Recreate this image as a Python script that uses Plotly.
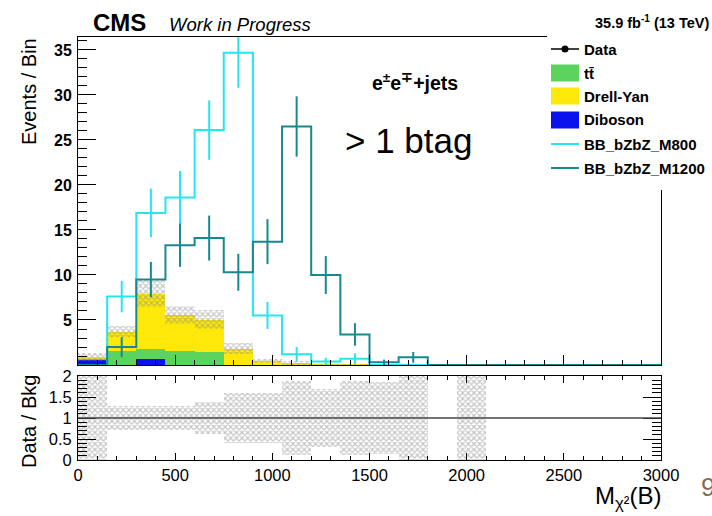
import plotly.graph_objects as go

# ---------------- data ----------------
bin_low = [0, 150, 300, 450, 600, 750, 900, 1050, 1200, 1350,
           1500, 1650, 1800, 1950, 2100, 2250, 2400, 2550, 2700, 2850]
bin_width = 150

diboson = [0.65, 0, 0.65, 0, 0, 0, 0, 0, 0, 0, 0, 0, 0, 0, 0, 0, 0, 0, 0, 0]
ttbar = [0.05, 1.6, 1.15, 1.6, 1.45, 0.05, 0, 0, 0, 0, 0, 0, 0, 0, 0, 0, 0, 0, 0, 0]
drellyan = [0.2, 2.1, 6.1, 3.95, 3.6, 1.75, 0.45, 0.25, 0.08, 0.05, 0.04, 0.02, 0, 0.01, 0, 0, 0, 0, 0, 0]
bkg_unc = [0.4, 0.6, 1.5, 1.0, 1.05, 0.6, 0.25, 0.2, 0.06, 0.04, 0.03, 0.05, 0, 0.02, 0, 0, 0, 0, 0, 0]

m800 = [0, 7.6, 16.9, 18.6, 26.1, 34.7, 5.5, 1.2, 0.4, 0.7, 0, 0, 0, 0, 0, 0, 0, 0, 0, 0]
m800_err = [0, 1.75, 2.7, 2.95, 3.3, 3.9, 1.5, 0.8, 0.4, 0.6, 0, 0, 0, 0, 0, 0, 0, 0, 0, 0]
m1200 = [0, 2.0, 9.5, 13.3, 14.1, 10.3, 13.7, 26.5, 10.0, 3.4, 0.3, 0.85, 0, 0, 0, 0, 0, 0, 0, 0]
m1200_err = [0, 1.1, 1.95, 2.4, 2.5, 2.05, 2.5, 3.35, 2.1, 1.25, 0.3, 0.6, 0, 0, 0, 0, 0, 0, 0, 0]

# relative background uncertainty shown in the ratio panel (None = empty bin, 9 = off scale)
ratio_err = [9, 0.28, 0.28, 0.28, 0.38, 0.6, 0.6, 0.88, 0.7, 0.88, 0.85, 9, None, 9,
             None, None, None, None, None, None]

legend_labels = ["Data", "tt\u0304", "Drell-Yan", "Diboson", "BB_bZbZ_M800", "BB_bZbZ_M1200"]

# ---------------- styles ----------------
C_DIB = "#0a12ee"
C_TT = "#5bd35c"
C_DY = "#fde80a"
C_M800 = "#22e8ee"
C_M1200 = "#17898e"
C_HATCH = "#8a8a8a"
FONT = "Liberation Sans, Arial, Helvetica, sans-serif"

W, H = 712, 516
L, R, T, B = 78, 661, 37, 460   # plot area in pixels


def pxx(x):
    return (x - L) / (R - L)


def pxy(y):
    return (B - y) / (B - T)


centers = [lo + bin_width / 2 for lo in bin_low]
edges = bin_low + [bin_low[-1] + bin_width]

fig = go.Figure()

# stacked backgrounds
base_tt = list(diboson)
base_dy = [a + b for a, b in zip(diboson, ttbar)]
total = [a + b + c for a, b, c in zip(diboson, ttbar, drellyan)]

for vals, base, col in [(diboson, [0] * len(centers), C_DIB), (ttbar, base_tt, C_TT),
                        (drellyan, base_dy, C_DY)]:
    fig.add_trace(go.Bar(x=centers, y=vals, base=base, width=bin_width,
                         marker=dict(color=col, line=dict(width=0)), showlegend=False,
                         xaxis="x", yaxis="y"))

hatch = dict(shape="x", fgcolor=C_HATCH, bgcolor="rgba(0,0,0,0)", size=4, solidity=0.5)

# uncertainty hatch on the stack
unc_x, unc_base, unc_h = [], [], []
for c, t, u in zip(centers, total, bkg_unc):
    if u > 0:
        unc_x.append(c)
        unc_base.append(max(t - u, 0))
        unc_h.append(t + u - max(t - u, 0))
fig.add_trace(go.Bar(x=unc_x, y=unc_h, base=unc_base, width=bin_width,
                     marker=dict(color="rgba(0,0,0,0)", line=dict(width=0), pattern=hatch),
                     showlegend=False, xaxis="x", yaxis="y"))

# signal step histograms
for vals, errs, col in [(m800, m800_err, C_M800), (m1200, m1200_err, C_M1200)]:
    fig.add_trace(go.Scatter(x=edges, y=vals + [vals[-1]], mode="lines", line_shape="hv",
                             line=dict(color=col, width=2), showlegend=False,
                             xaxis="x", yaxis="y"))
    fig.add_trace(go.Scatter(x=centers, y=vals, mode="markers",
                             marker=dict(size=1, color=col, opacity=0),
                             error_y=dict(type="data", array=errs, width=0, thickness=2, color=col),
                             showlegend=False, xaxis="x", yaxis="y"))

# ratio band
rx, rb, rh = [], [], []
for c, e in zip(centers, ratio_err):
    if e is not None:
        rx.append(c)
        rb.append(1 - e)
        rh.append(2 * e)
fig.add_trace(go.Bar(x=rx, y=rh, base=rb, width=bin_width,
                     marker=dict(color="rgba(0,0,0,0)", line=dict(width=0), pattern=hatch),
                     showlegend=False, xaxis="x2", yaxis="y2"))

main_bottom = pxy(365)
ratio_top = pxy(376)

axis_common = dict(showgrid=False, zeroline=False, showline=True, linecolor="black",
                   linewidth=1, ticks="inside", tickcolor="black")

fig.update_layout(
    width=W, height=H,
    margin=dict(l=L, r=W - R, t=T, b=H - B),
    paper_bgcolor="white", plot_bgcolor="white",
    barmode="overlay", bargap=0,
    showlegend=False,
    font=dict(family=FONT, color="black"),
    xaxis=dict(**axis_common, domain=[0, 1], anchor="y", range=[0, 3000],
               showticklabels=False, dtick=500, tick0=0, ticklen=10, mirror=True,
               minor=dict(ticks="inside", dtick=100, ticklen=5, tickcolor="black")),
    yaxis=dict(**axis_common, domain=[main_bottom, 1], anchor="x", range=[0, 36.44],
               ticklen=18, mirror=True,
               tickvals=[5, 10, 15, 20, 25, 30, 35],
               tickfont=dict(family=FONT, size=16, weight="bold"),
               ticklabelstandoff=2,
               minor=dict(ticks="inside", dtick=1, ticklen=9, tickcolor="black")),
    xaxis2=dict(**axis_common, domain=[0, 1], anchor="y2", range=[0, 3000],
                tickvals=[0, 500, 1000, 1500, 2000, 2500, 3000],
                ticktext=["0", "500", "1000", "1500", "2000", "2500", "3000"],
                ticklen=7, mirror="ticks", tickfont=dict(family=FONT, size=16.5),
                minor=dict(ticks="inside", dtick=100, ticklen=4, tickcolor="black")),
    yaxis2=dict(**axis_common, domain=[0, ratio_top], anchor="x2", range=[0, 2.0],
                tickvals=[0, 0.5, 1, 1.5, 2], ticktext=["0", "0.5", "1", "1.5", "2"],
                ticklen=18, mirror="ticks", tickfont=dict(family=FONT, size=16.5),
                ticklabelstandoff=2,
                minor=dict(ticks="inside", dtick=0.1, ticklen=9, tickcolor="black")),
)

# reference line at 1 in the ratio
fig.add_shape(type="line", xref="x2 domain", yref="y2", x0=0, x1=1, y0=1, y1=1,
              line=dict(color="#444444", width=1.5))

shapes = []
annos = []

# legend block (white box covering the top right of the frame)
shapes.append(dict(type="rect", xref="paper", yref="paper", x0=pxx(547), x1=pxx(712),
                   y0=pxy(190), y1=pxy(34), fillcolor="white", line=dict(width=0), layer="above"))
leg_y = [49, 73, 96, 120, 144, 168]
sw_x0, sw_x1 = pxx(551), pxx(579)
shapes.append(dict(type="line", xref="paper", yref="paper", x0=sw_x0, x1=sw_x1,
                   y0=pxy(leg_y[0]), y1=pxy(leg_y[0]), line=dict(color="black", width=1.5), layer="above"))
shapes.append(dict(type="circle", xref="paper", yref="paper", x0=pxx(561.5), x1=pxx(568.5),
                   y0=pxy(leg_y[0] + 3.5), y1=pxy(leg_y[0] - 3.5), fillcolor="black",
                   line=dict(color="black", width=0), layer="above"))
for yy, col in zip(leg_y[1:4], [C_TT, C_DY, C_DIB]):
    shapes.append(dict(type="rect", xref="paper", yref="paper", x0=sw_x0, x1=sw_x1,
                       y0=pxy(yy + 8.5), y1=pxy(yy - 8.5), fillcolor=col,
                       line=dict(width=0), layer="above"))
for yy, col in zip(leg_y[4:], [C_M800, C_M1200]):
    shapes.append(dict(type="line", xref="paper", yref="paper", x0=sw_x0, x1=sw_x1,
                       y0=pxy(yy), y1=pxy(yy), line=dict(color=col, width=2), layer="above"))
for yy, lab in zip(leg_y, legend_labels):
    annos.append(dict(x=pxx(582), y=pxy(yy), text="<b>%s</b>" % lab,
                      xanchor="left", font=dict(family=FONT, size=15)))

for s in shapes:
    fig.add_shape(**s)

# texts
annos += [
    dict(x=pxx(91), y=pxy(22), text="<b>CMS</b>", xanchor="left",
         font=dict(family=FONT, size=24)),
    dict(x=pxx(167), y=pxy(24), text="<i>Work in Progress</i>", xanchor="left",
         font=dict(family=FONT, size=18.5)),
    dict(x=pxx(711), y=pxy(22), text="<b>35.9 fb<sup>-1</sup> (13 TeV)</b>", xanchor="right",
         font=dict(family=FONT, size=14.5)),
    dict(x=pxx(415), y=pxy(82), text="<b>e<sup>\u00b1</sup>e<sup>\u2213</sup>+jets</b>",
         xanchor="center", font=dict(family=FONT, size=19.5)),
    dict(x=pxx(408), y=pxy(140), text="> 1 btag", xanchor="center",
         font=dict(family=FONT, size=35)),
    dict(x=pxx(29), y=pxy(92), text="Events / Bin", textangle=-90, xanchor="center",
         font=dict(family=FONT, size=20)),
    dict(x=pxx(29), y=pxy(422), text="Data / Bkg", textangle=-90, xanchor="center",
         font=dict(family=FONT, size=20)),
    dict(x=pxx(663), y=pxy(497), text="M<sub>\u03c7\u00b2</sub>(B)", xanchor="right",
         font=dict(family=FONT, size=24)),
    dict(x=pxx(699), y=pxy(487), text="9", xanchor="left",
         font=dict(family=FONT, size=26, color="#7d6e52")),
]
for a in annos:
    a.setdefault("xref", "paper")
    a.setdefault("yref", "paper")
    a.setdefault("showarrow", False)
    a.setdefault("yanchor", "middle")
    fig.add_annotation(**a)

fig.write_html("out.html")
